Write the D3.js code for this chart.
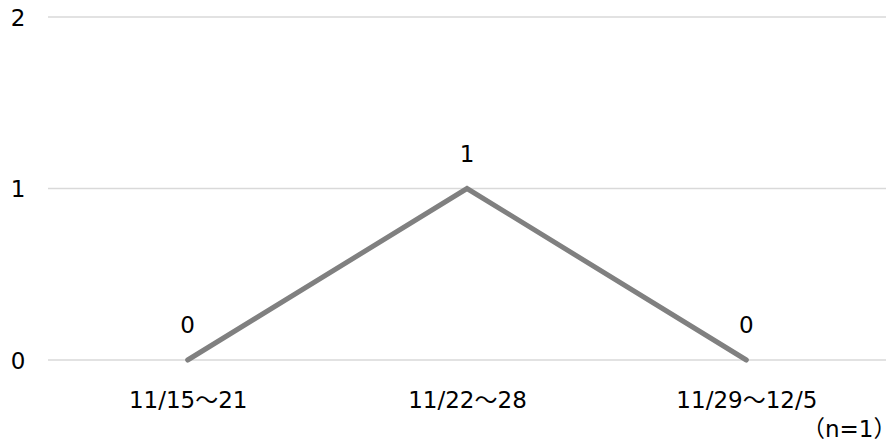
<!DOCTYPE html>
<html>
<head>
<meta charset="utf-8">
<script src="https://cdn.jsdelivr.net/npm/d3@7"></script>
<style>
  html, body { margin: 0; padding: 0; background: #fff; }
  svg text { font-family: "DejaVu Sans", Verdana, sans-serif; fill: #000; }
  .wide { font-family: "Noto Sans CJK JP", sans-serif; }
  .note .wide { font-feature-settings: "halt" 1; }
</style>
</head>
<body>
<svg id="chart" width="886" height="445"></svg>
<script>
// Weekly counts
const categories = ["11/15～21", "11/22～28", "11/29～12/5"];
const values = [0, 1, 0];
const yTicks = [0, 1, 2];
const note = "（n=1）";

const svg = d3.select("#chart");
const margin = { left: 48, right: 0, top: 17, bottom: 85 };
const W = 886, H = 445;
const FS = 23;

const x = d3.scalePoint().domain(categories).range([margin.left, W - margin.right]).padding(0.5);
const y = d3.scaleLinear().domain([0, 2]).range([H - margin.bottom, margin.top]);

// Write a string into a text node, setting full-width characters in a CJK face
function setMixed(sel, str) {
  sel.text(null);
  const parts = str.match(/[\uFF00-\uFFEF]+|[^\uFF00-\uFFEF]+/g) || [];
  parts.forEach(p => {
    const t = sel.append("tspan").text(p);
    if (/[\uFF00-\uFFEF]/.test(p)) t.attr("class", "wide");
  });
}

// Horizontal gridlines
svg.append("g").selectAll("line").data(yTicks).join("line")
  .attr("x1", margin.left).attr("x2", W - margin.right)
  .attr("y1", d => y(d)).attr("y2", d => y(d))
  .attr("stroke", "#d9d9d9").attr("stroke-width", 1.3);

// Y axis labels
const yAxis = d3.axisLeft(y).tickValues(yTicks).tickFormat(d3.format("d")).tickSize(0).tickPadding(0);
const gy = svg.append("g").attr("transform", "translate(18,0)").call(yAxis);
gy.select(".domain").remove();
gy.attr("font-family", null).attr("font-size", null);
gy.selectAll("text").attr("font-size", FS).attr("text-anchor", "middle").attr("dy", "0.35em");

// X axis labels
const xAxis = d3.axisBottom(x).tickSize(0).tickPadding(0);
const gx = svg.append("g").attr("transform", `translate(0,${y(0)})`).call(xAxis);
gx.select(".domain").remove();
gx.attr("font-family", null).attr("font-size", null);
gx.selectAll("text").attr("font-size", FS).attr("dy", 0).attr("y", 48)
  .each(function(d) { setMixed(d3.select(this), d); });

// Series line
const line = d3.line().x((d, i) => x(categories[i])).y(d => y(d));
svg.append("path").datum(values)
  .attr("d", line)
  .attr("fill", "none")
  .attr("stroke", "#808080")
  .attr("stroke-width", 5)
  .attr("stroke-linejoin", "miter")
  .attr("stroke-linecap", "round");

// Value labels
svg.append("g").selectAll("text").data(values).join("text")
  .attr("x", (d, i) => x(categories[i]))
  .attr("y", d => y(d) - 27)
  .attr("text-anchor", "middle")
  .attr("font-size", FS)
  .text(d => d);

// Sample size note, full-width parens set half-width so it sits flush right
const nt = svg.append("text")
  .attr("class", "note")
  .attr("x", 885).attr("y", 437)
  .attr("text-anchor", "end")
  .attr("font-size", FS);
setMixed(nt, note);
</script>
</body>
</html>
